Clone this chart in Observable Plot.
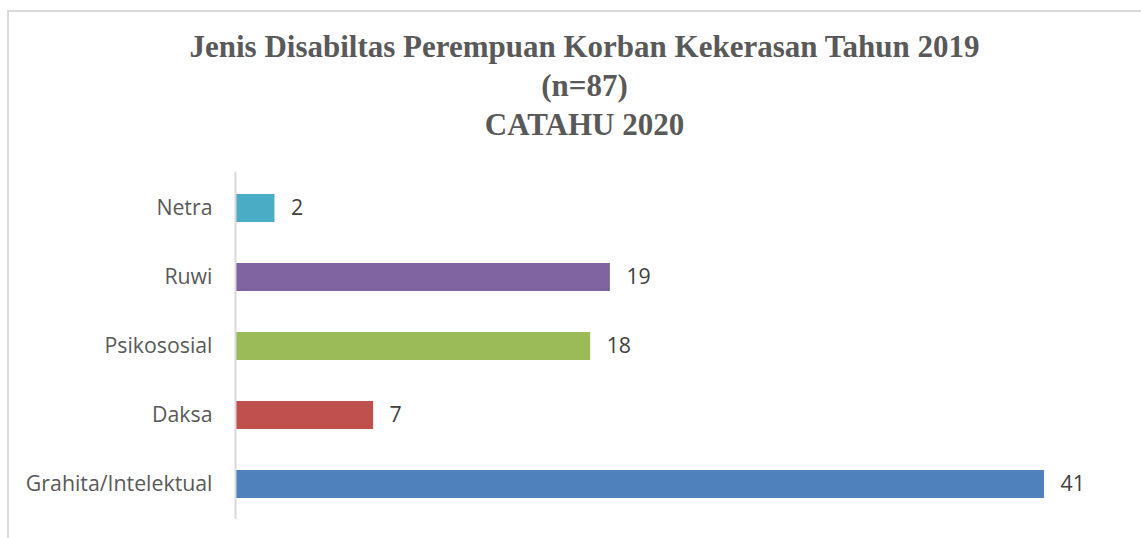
<!DOCTYPE html>
<html>
<head>
<meta charset="utf-8">
<script src="https://cdn.jsdelivr.net/npm/d3@7"></script>
<script src="https://cdn.jsdelivr.net/npm/@observablehq/plot@0.6"></script>
<style>
  html, body { margin: 0; padding: 0; background: #fff; width: 1141px; height: 538px; overflow: hidden; }
  #frame { position: absolute; left: 7px; top: 10px; width: 1160px; height: 560px; border: 2px solid #d9d9d9; box-sizing: border-box; }
  #title { position: absolute; left: 8px; top: 27px; width: 1153px; text-align: center;
           font-family: "Liberation Serif", "DejaVu Serif", serif; font-weight: bold; font-size: 31px;
           line-height: 39px; color: #595959; }
  #chart { position: absolute; left: 0; top: 160px; }
</style>
</head>
<body>
<div id="frame"></div>
<div id="title">Jenis Disabiltas Perempuan Korban Kekerasan Tahun 2019<br>(n=87)<br>CATAHU 2020</div>
<div id="chart"></div>
<script>
const categories = ["Netra", "Ruwi", "Psikososial", "Daksa", "Grahita/Intelektual"];
const values = [2, 19, 18, 7, 41];
const colors = ["#4bacc6", "#8064a2", "#9bbb59", "#c0504d", "#4f81bd"];

const data = categories.map((c, i) => ({category: c, value: values[i], color: colors[i]}));

const chart = Plot.plot({
  width: 1141,
  height: 375,
  marginTop: 12,
  marginBottom: 16,
  marginLeft: 235,
  marginRight: 97,
  style: {background: "transparent", fontFamily: "'Open Sans', sans-serif"},
  x: {domain: [0, 41], axis: null},
  y: {domain: categories, paddingInner: 0.6, paddingOuter: 0.3, label: null},
  marks: [
    Plot.barX(data, {x: "value", y: "category", fill: "color"}),
    Plot.ruleX([0], {stroke: "#d9d9d9", strokeWidth: 2}),
    Plot.axisY({tickSize: 0, tickPadding: 23, fontSize: 21.3, color: "#595959", label: null}),
    Plot.text(data, {x: "value", y: "category", text: d => String(d.value), dx: 16,
      textAnchor: "start", fill: "#404040", fontSize: 21.3})
  ]
});
document.getElementById("chart").appendChild(chart);
</script>
</body>
</html>
